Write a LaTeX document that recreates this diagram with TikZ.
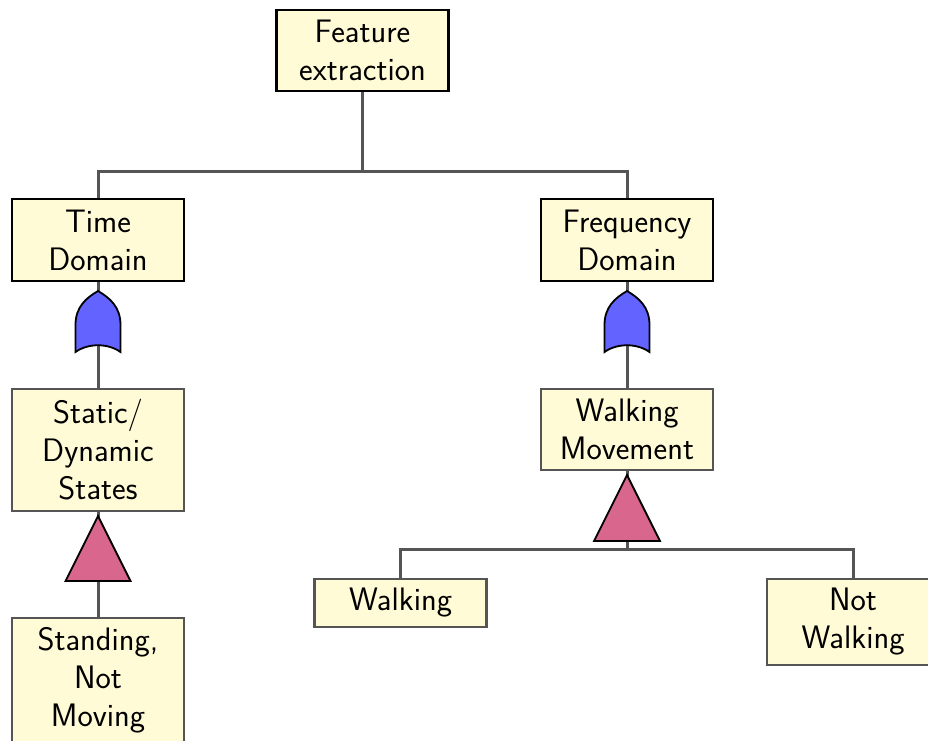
\documentclass[tikz,border=0pt]{standalone}
\usepackage{xcolor}
\definecolor{boxfill}{HTML}{FFFBD6}
\definecolor{linegray}{HTML}{555555}
\definecolor{orblue}{HTML}{6363FF}
\definecolor{trired}{HTML}{D9668C}
\begin{document}
\begin{tikzpicture}[x=1pt,y=-1pt,
  base/.style={rectangle,fill=boxfill,line width=2.2pt,minimum width=172pt,text width=166pt,align=center,inner sep=2pt,font=\sffamily\fontsize{32.5}{38}\selectfont},
  darkbox/.style={base,draw=black},
  graybox/.style={base,draw=linegray},
  conn/.style={draw=linegray,line width=3pt},
  gatestyle/.style={fill=orblue,draw=black,line width=1.8pt},
  tristyle/.style={fill=trired,draw=black,line width=1.8pt,line join=miter}]
\useasboundingbox (0,0) rectangle (928,740);
\node[darkbox,minimum height=81pt] (fe) at (362.5,50.5) {Feature\\extraction};
\node[darkbox,minimum height=82pt] (td) at (98,240) {Time\\Domain};
\node[darkbox,minimum height=82pt] (fd) at (627,240) {Frequency\\Domain};
\node[graybox,minimum height=122pt] (sd) at (98,450) {Static/\\Dynamic\\States};
\node[graybox,minimum height=81pt] (wm) at (627,429.5) {Walking\\Movement};
\node[graybox,minimum height=124pt] (sn) at (98,680) {Standing,\\Not\\Moving};
\node[graybox,minimum height=48pt] (wk) at (400.5,603) {Walking};
\node[graybox,minimum height=86pt] (nw) at (853,622) {Not\\Walking};
\coordinate (j1) at (362.5,171);
\coordinate (j2) at (627,549);
\draw[conn] (fe.south) -- (j1);
\draw[conn] (td.north) |- (j1) -| (fd.north);
\draw[conn] (td.south) -- (sd.north);
\draw[conn] (fd.south) -- (wm.north);
\draw[conn] (sd.south) -- (sn.north);
\draw[conn] (wm.south) -- (j2);
\draw[conn] (wk.north) |- (j2) -| (nw.north);
% OR gates
\foreach \cx in {98,627}{
  \draw[gatestyle] (\cx-22.5,352) -- (\cx-22.5,325)
    .. controls (\cx-22.5,307) and (\cx-12,298) .. (\cx,291)
    .. controls (\cx+12,298) and (\cx+22.5,307) .. (\cx+22.5,325)
    -- (\cx+22.5,352)
    .. controls (\cx+10,343) and (\cx-10,343) .. cycle;
}
% triangles
\draw[tristyle] (98,516) -- (130.5,581) -- (65.5,581) -- cycle;
\draw[tristyle] (627,475) -- (660,541) -- (594,541) -- cycle;
\end{tikzpicture}
\end{document}
